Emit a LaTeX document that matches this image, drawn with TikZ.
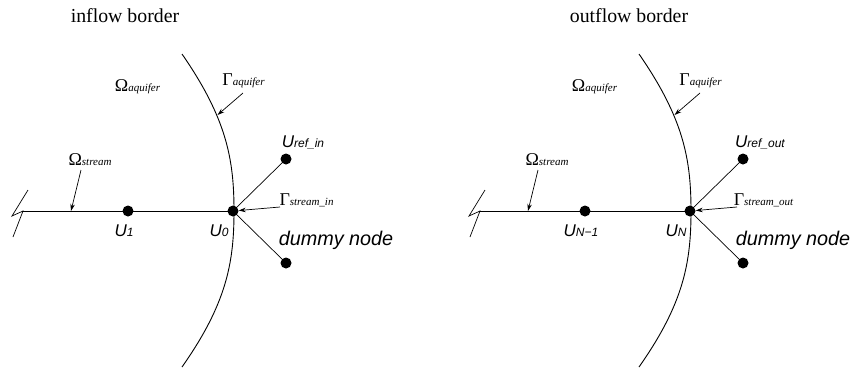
\documentclass[tikz,border=0pt]{standalone}
\usepackage{fontspec}
\setmainfont{Liberation Serif}
\newfontfamily\arialf{Liberation Sans}
\usetikzlibrary{arrows.meta}
\tikzset{
  dotnode/.style={circle,fill=black,inner sep=0pt,minimum size=11pt},
  lbl/.style={anchor=base,inner sep=0pt},
  curveline/.style={line width=0.9pt},
  conn/.style={line width=0.7pt},
  ptr/.style={line width=0.7pt,-{Stealth[length=7pt,width=4.5pt]}},
}
\newcommand\greekl[2]{{\fontsize{18}{18}\selectfont #1}{\fontsize{11}{11}\selectfont\itshape #2}}
\newcommand\ulbl[1]{{\arialf\itshape\fontsize{17}{17}\selectfont U}{\arialf\itshape\fontsize{12}{12}\selectfont #1}}
\newcommand\borderpanel[5]{%
\begin{scope}[xshift=#1]
  \draw[curveline] (182,54) .. controls (227,119) and (234,160) .. (234,211)
                   .. controls (234,262) and (227,303) .. (182,367);
  \coordinate (#2s0) at (23,211);
  \node[dotnode] (#2u1) at (128,211) {};
  \node[dotnode] (#2u0) at (233,211) {};
  \node[dotnode] (#2ur) at (286,159) {};
  \node[dotnode] (#2ud) at (286,263) {};
  \draw[curveline] (#2s0) -- (#2u0.center);
  \draw[conn] (28,190) -- (12,216) -- (#2s0) -- (13,237);
  \draw[conn] (#2u0) -- (#2ur);
  \draw[conn] (#2u0) -- (#2ud);
  \node[lbl] (#2oa) at (137.5,91) {\greekl{Ω}{aquifer}};
  \node[lbl] (#2ga) at (243.5,85) {\greekl{Γ}{aquifer}};
  \node[lbl] (#2os) at (90,165) {\greekl{Ω}{stream}};
  \node[lbl] (#2gs) at (306.5,205) {\greekl{Γ}{stream\_#3}};
  \node[lbl] (#2lr) at (303,147) {\ulbl{ref\_#3}};
  \node[lbl] (#2l0) at (219,236) {\ulbl{#4}};
  \node[lbl] (#2l1) at (124,236) {\ulbl{#5}};
  \node[lbl] (#2ld) at (336,245) {\arialf\itshape\fontsize{19.8}{19.8}\selectfont dummy node};
  \coordinate (#2gat) at (243,93);
  \coordinate (#2gah) at (217.5,115);
  \draw[ptr] (#2gat) -- (#2gah);
  \coordinate (#2ost) at (81,170);
  \coordinate (#2osh) at (71,211);
  \draw[ptr] (#2ost) -- (#2osh);
  \coordinate (#2gst) at (280,207);
  \draw[ptr] (#2gst) -- (#2u0);
\end{scope}}
\begin{document}
\begin{tikzpicture}[x=1pt,y=-1pt]
  \useasboundingbox (0,0) rectangle (854,368);
  \fill[white] (0,0) rectangle (854,368);
  \node[lbl] (t1) at (125,22) {\fontsize{19.8}{19.8}\selectfont inflow border};
  \node[lbl] (t2) at (629,22) {\fontsize{19.8}{19.8}\selectfont outflow border};
  \borderpanel{0pt}{a}{in}{0}{1}
  \borderpanel{457pt}{b}{out}{N}{N−1}
\end{tikzpicture}
\end{document}
